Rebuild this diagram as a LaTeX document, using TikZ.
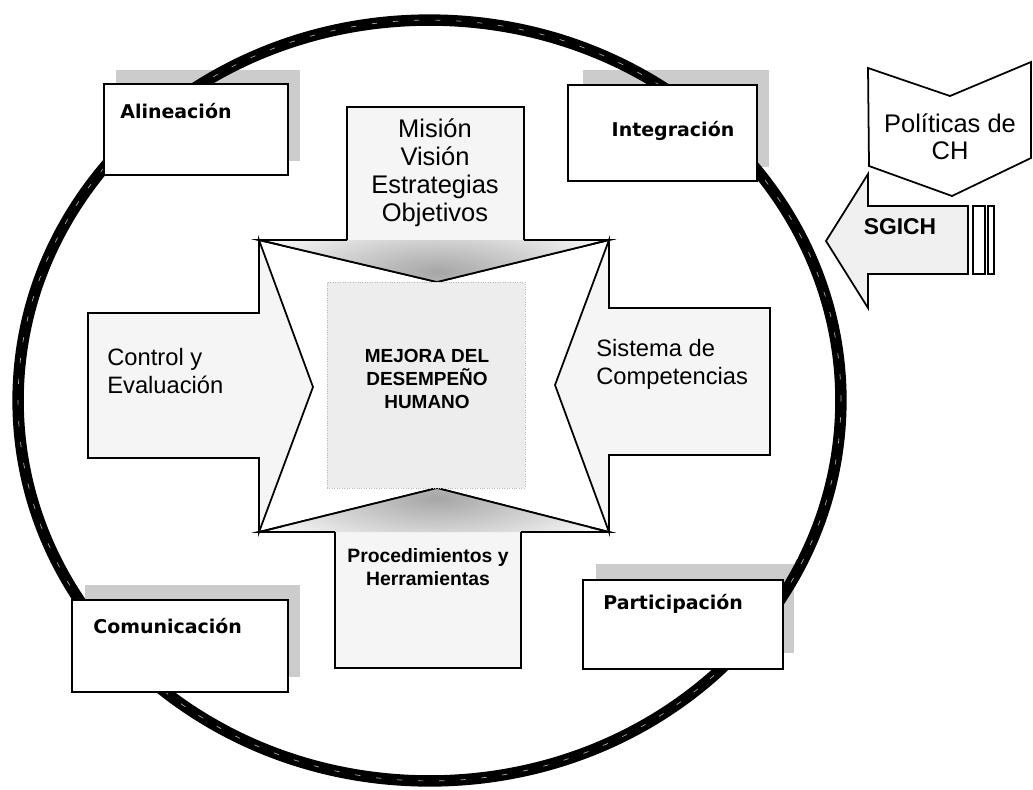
\documentclass[tikz,border=0pt]{standalone}
\usepackage{fontspec}
\setmainfont{Liberation Sans}
\newfontfamily\boxfont{DejaVu Sans}
\tikzset{
  armblk/.style={fill=gray!8,draw,line width=1pt,line join=miter},
  armline/.style={draw,line width=1pt,line join=miter},
  headshade/.style={inner color=gray!70,outer color=gray!10},
  shadowblk/.style={fill=gray!40},
  lblblk/.style={draw,line width=1pt,fill=white},
  coreblk/.style={fill=gray!14,draw=gray!55,densely dotted,inner sep=0pt},
  ring/.style={line width=6.5pt},
  lbl/.style={font=\boxfont\bfseries\fontsize{10.8}{13}\selectfont,inner sep=0pt},
  armlbl/.style={font=\fontsize{13.5}{15.8}\selectfont,align=left,inner sep=0pt},
  corelbl/.style={font=\bfseries\fontsize{10.8}{13}\selectfont,align=center,inner sep=0pt}
}

\begin{document}
\begin{tikzpicture}[x=0.02cm,y=-0.02cm]
  \useasboundingbox (0,0) rectangle (1033,789);

  % Shadows of the corner boxes
  \fill[shadowblk] (116,70) rectangle (300,161);
  \fill[shadowblk] (583,70) rectangle (769,167);
  \fill[shadowblk] (85,585) rectangle (300,677);
  \fill[shadowblk] (596,564) rectangle (794,653);

  % Outer ring
  \draw[ring] (429.5,400.5) ellipse [x radius=8.23cm, y radius=7.61cm];
  \draw[gray!70, line width=0.4pt, dash pattern=on 3pt off 9pt] (429.5,400.5) ellipse [x radius=8.23cm, y radius=7.61cm];

  % Corner boxes
  \draw[lblblk] (104,84) rectangle (288,175);
  \draw[lblblk] (568,85) rectangle (757,181);
  \draw[lblblk] (72,600) rectangle (288,692);
  \draw[lblblk] (583,580) rectangle (783,669);
  \node[lbl, anchor=west] (alin) at (120,111) {Alineación};
  \node[lbl] (integ) at (673,131) {Integración};
  \node[lbl, anchor=west] (comun) at (93,626) {Comunicación};
  \node[lbl, anchor=west] (partic) at (603,604) {Participación};

  % Star corners and arrow tips
  \coordinate (tl) at (259,240);
  \coordinate (tr) at (609,240);
  \coordinate (bl) at (259,532);
  \coordinate (br) at (609,532);
  \coordinate (ttop) at (437,282);
  \coordinate (tbot) at (437,488);
  \coordinate (tlft) at (313,387);
  \coordinate (trgt) at (555,385);

  % Four arrows into the centre
  \path[armblk] (347,107) -- (524,107) -- (524,240) -- (tr) -- (ttop) -- (tl) -- (347,240) -- cycle;
  \path[armblk] (88,313) -- (259,313) -- (tl) -- (tlft) -- (bl) -- (259,458) -- (88,458) -- cycle;
  \path[armblk] (770,308) -- (609,308) -- (tr) -- (trgt) -- (br) -- (609,455) -- (770,455) -- cycle;
  \path[armblk] (335,668) -- (521,668) -- (521,532) -- (br) -- (tbot) -- (bl) -- (335,532) -- cycle;

  % Darker heads, top and bottom
  \begin{scope}
    \clip (tl) -- (tr) -- (ttop) -- cycle;
    \shade[headshade] (437,272) ellipse [x radius=3.6cm, y radius=1.1cm];
  \end{scope}
  \begin{scope}
    \clip (bl) -- (br) -- (tbot) -- cycle;
    \shade[headshade] (437,498) ellipse [x radius=3.6cm, y radius=1.1cm];
  \end{scope}
  \draw[armline] (347,240) -- (tl) -- (ttop) -- (tr) -- (524,240);
  \draw[armline] (335,532) -- (bl) -- (tbot) -- (br) -- (521,532);

  % Centre square
  \node[coreblk, minimum width=3.96cm, minimum height=4.12cm] (core) at (426,385) {};
  \node[corelbl] (mejora) at (427,379) {MEJORA DEL\\DESEMPEÑO\\HUMANO};

  % Arrow texts
  \node[armlbl, align=center, font=\fontsize{14.5}{16}\selectfont] (mision) at (435,173) {Misión\\Visión\\Estrategias\\Objetivos};
  \node[armlbl, anchor=west] (control) at (107,371) {Control y\\Evaluación};
  \node[armlbl, anchor=west] (sistema) at (596,364) {Sistema de\\Competencias};
  \node[corelbl, font=\bfseries\fontsize{11}{13}\selectfont] (proced) at (428,567) {Procedimientos y\\Herramientas};

  % SGICH arrow with its stripes
  \path[armblk, fill=gray!12] (968,206) -- (868,206) -- (868,174) -- (826,241) -- (868,308) -- (868,274) -- (968,274) -- cycle;
  \draw[lblblk] (973,206) rectangle (985,274);
  \draw[lblblk] (988,206) rectangle (994,274);
  \node[font=\bfseries\fontsize{13}{15}\selectfont, inner sep=0pt] (sgich) at (900,227) {SGICH};

  % Policies chevron
  \path[lblblk] (868,68) -- (950,96) -- (1031,62) -- (1031,158) -- (952,196) -- (869,166) -- cycle;
  \node[font=\fontsize{14.5}{15.5}\selectfont, align=center, inner sep=0pt] (polit) at (950,137) {Políticas de\\CH};
\end{tikzpicture}
\end{document}
